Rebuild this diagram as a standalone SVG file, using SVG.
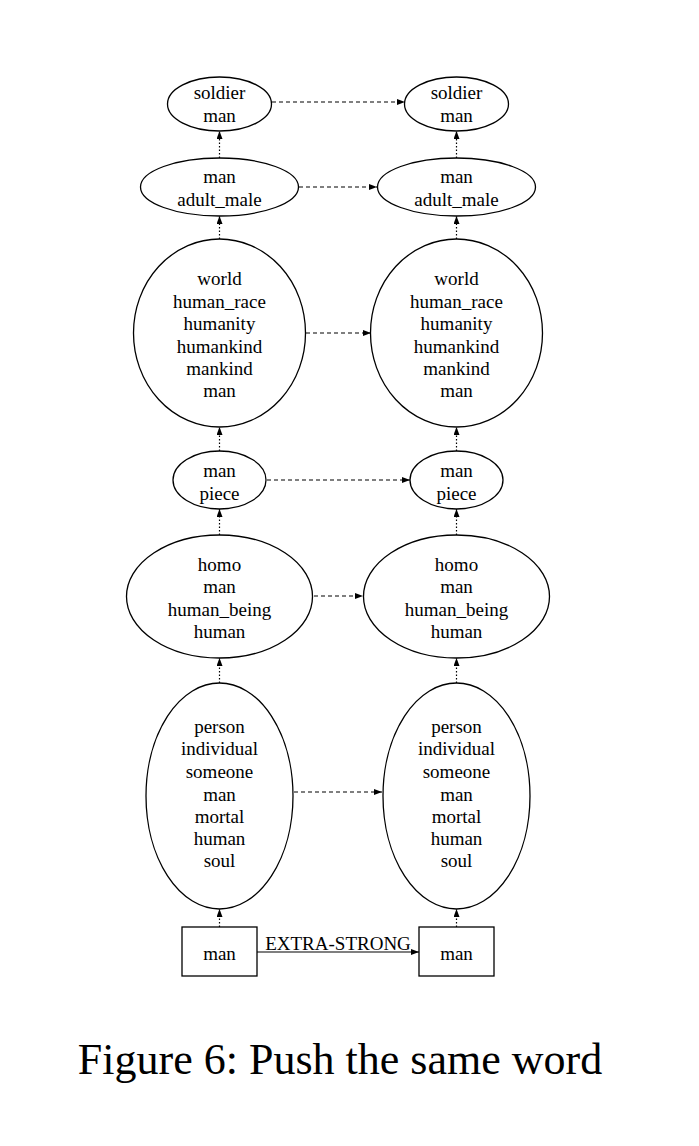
<svg xmlns="http://www.w3.org/2000/svg" width="699" height="1146" viewBox="0 0 699 1146">
<style>
.n{fill:#fff;stroke:#000;stroke-width:1.3}
.t{font-family:"Liberation Serif",serif;font-size:19px;fill:#000;text-anchor:middle}
.dash{stroke:#000;stroke-width:1.2;stroke-dasharray:4,3;fill:none}
.dot{stroke:#000;stroke-width:1.2;stroke-dasharray:1.5,2;fill:none}
.sol{stroke:#000;stroke-width:1.2;fill:none}
</style>
<defs>
<marker id="ah" markerUnits="userSpaceOnUse" markerWidth="9" markerHeight="6" refX="8" refY="3" orient="auto">
<path d="M0,0 L8,3 L0,6 z" fill="#000"/>
</marker>
</defs>
<rect width="699" height="1146" fill="#fff"/>
<g id="connectors">
<line class="dash" x1="272" y1="102" x2="405" y2="102" marker-end="url(#ah)"/>
<line class="dash" x1="299" y1="187" x2="377" y2="187" marker-end="url(#ah)"/>
<line class="dash" x1="306" y1="333" x2="371" y2="333" marker-end="url(#ah)"/>
<line class="dash" x1="267" y1="480" x2="410" y2="480" marker-end="url(#ah)"/>
<line class="dash" x1="314" y1="596" x2="363" y2="596" marker-end="url(#ah)"/>
<line class="dash" x1="294" y1="792" x2="382" y2="792" marker-end="url(#ah)"/>
<line class="sol" x1="257" y1="952" x2="419" y2="952" marker-end="url(#ah)"/>
<text class="t" x="338" y="950">EXTRA-STRONG</text>
<line class="dot" x1="219.5" y1="158" x2="219.5" y2="131" marker-end="url(#ah)"/>
<line class="dot" x1="219.5" y1="239" x2="219.5" y2="216" marker-end="url(#ah)"/>
<line class="dot" x1="219.5" y1="451" x2="219.5" y2="427" marker-end="url(#ah)"/>
<line class="dot" x1="219.5" y1="535" x2="219.5" y2="509" marker-end="url(#ah)"/>
<line class="dot" x1="219.5" y1="683" x2="219.5" y2="658" marker-end="url(#ah)"/>
<line class="dot" x1="219.5" y1="927" x2="219.5" y2="909" marker-end="url(#ah)"/>
<line class="dot" x1="456.5" y1="158" x2="456.5" y2="131" marker-end="url(#ah)"/>
<line class="dot" x1="456.5" y1="239" x2="456.5" y2="216" marker-end="url(#ah)"/>
<line class="dot" x1="456.5" y1="451" x2="456.5" y2="427" marker-end="url(#ah)"/>
<line class="dot" x1="456.5" y1="535" x2="456.5" y2="509" marker-end="url(#ah)"/>
<line class="dot" x1="456.5" y1="683" x2="456.5" y2="658" marker-end="url(#ah)"/>
<line class="dot" x1="456.5" y1="927" x2="456.5" y2="909" marker-end="url(#ah)"/>
</g>
<g id="L1"><ellipse class="n" cx="219.5" cy="104" rx="52" ry="27"/>
<text class="t" x="219.5" y="99">soldier</text><text class="t" x="219.5" y="122">man</text></g>
<g id="R1"><ellipse class="n" cx="456.5" cy="104" rx="52" ry="27"/>
<text class="t" x="456.5" y="99">soldier</text><text class="t" x="456.5" y="122">man</text></g>
<g id="L2"><ellipse class="n" cx="219.5" cy="187" rx="79" ry="29"/>
<text class="t" x="219.5" y="183">man</text><text class="t" x="219.5" y="206">adult_male</text></g>
<g id="R2"><ellipse class="n" cx="456.5" cy="187" rx="79" ry="29"/>
<text class="t" x="456.5" y="183">man</text><text class="t" x="456.5" y="206">adult_male</text></g>
<g id="L3"><ellipse class="n" cx="219.5" cy="333" rx="86" ry="94"/>
<text class="t" x="219.5" y="285">world</text><text class="t" x="219.5" y="308">human_race</text><text class="t" x="219.5" y="330">humanity</text><text class="t" x="219.5" y="353">humankind</text><text class="t" x="219.5" y="375">mankind</text><text class="t" x="219.5" y="397">man</text></g>
<g id="R3"><ellipse class="n" cx="456.5" cy="333" rx="86" ry="94"/>
<text class="t" x="456.5" y="285">world</text><text class="t" x="456.5" y="308">human_race</text><text class="t" x="456.5" y="330">humanity</text><text class="t" x="456.5" y="353">humankind</text><text class="t" x="456.5" y="375">mankind</text><text class="t" x="456.5" y="397">man</text></g>
<g id="L4"><ellipse class="n" cx="219.5" cy="480" rx="46.5" ry="29"/>
<text class="t" x="219.5" y="477">man</text><text class="t" x="219.5" y="500">piece</text></g>
<g id="R4"><ellipse class="n" cx="456.5" cy="480" rx="46.5" ry="29"/>
<text class="t" x="456.5" y="477">man</text><text class="t" x="456.5" y="500">piece</text></g>
<g id="L5"><ellipse class="n" cx="219.5" cy="596.5" rx="93" ry="61.5"/>
<text class="t" x="219.5" y="571">homo</text><text class="t" x="219.5" y="593">man</text><text class="t" x="219.5" y="616">human_being</text><text class="t" x="219.5" y="638">human</text></g>
<g id="R5"><ellipse class="n" cx="456.5" cy="596.5" rx="93" ry="61.5"/>
<text class="t" x="456.5" y="571">homo</text><text class="t" x="456.5" y="593">man</text><text class="t" x="456.5" y="616">human_being</text><text class="t" x="456.5" y="638">human</text></g>
<g id="L6"><ellipse class="n" cx="219.5" cy="796" rx="73.5" ry="113"/>
<text class="t" x="219.5" y="733">person</text><text class="t" x="219.5" y="755">individual</text><text class="t" x="219.5" y="778">someone</text><text class="t" x="219.5" y="801">man</text><text class="t" x="219.5" y="823">mortal</text><text class="t" x="219.5" y="845">human</text><text class="t" x="219.5" y="867">soul</text></g>
<g id="R6"><ellipse class="n" cx="456.5" cy="796" rx="73.5" ry="113"/>
<text class="t" x="456.5" y="733">person</text><text class="t" x="456.5" y="755">individual</text><text class="t" x="456.5" y="778">someone</text><text class="t" x="456.5" y="801">man</text><text class="t" x="456.5" y="823">mortal</text><text class="t" x="456.5" y="845">human</text><text class="t" x="456.5" y="867">soul</text></g>
<g id="L7"><rect class="n" x="182" y="927" width="75" height="49"/>
<text class="t" x="219.5" y="960">man</text></g>
<g id="R7"><rect class="n" x="419" y="927" width="75" height="49"/>
<text class="t" x="456.5" y="960">man</text></g>
<text x="340" y="1074" font-family="Liberation Serif, serif" font-size="44" text-anchor="middle" fill="#000">Figure 6: Push the same word</text>
</svg>
